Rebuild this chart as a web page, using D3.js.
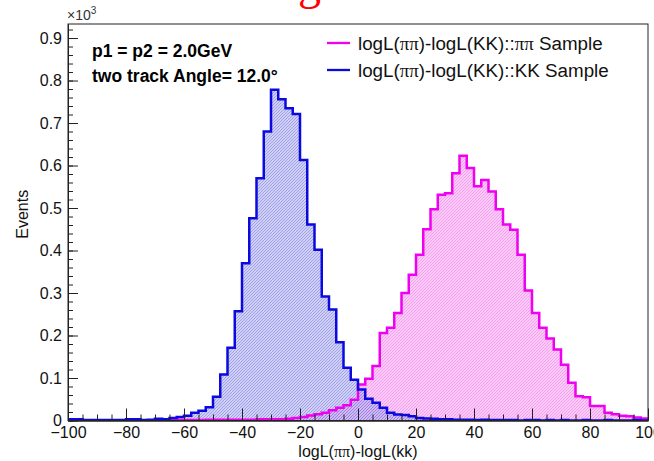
<!DOCTYPE html>
<html><head><meta charset="utf-8">
<script src="https://cdn.jsdelivr.net/npm/d3@7"></script>
<style>body{margin:0;background:#fff}svg{display:block}</style>
</head><body>
<svg id="c" width="654" height="461"></svg>
<script>
// ---------------- data ----------------
const xRange = [-100, 100];
const nBins = 80;
const yMax = 933;               // counts (axis shown x10^3)
const xMajorTicks = [-100, -80, -60, -40, -20, 0, 20, 40, 60, 80, 100];
const yMajorTicks = [0, 100, 200, 300, 400, 500, 600, 700, 800, 900];
const seriesNames = ["logL(ππ)-logL(KK)::ππ Sample", "logL(ππ)-logL(KK)::KK Sample"];
const infoLines = ["p1 = p2 = 2.0GeV", "two track Angle= 12.0°"];
const xTitle = "logL(ππ)-logL(kk)";
const yTitle = "Events";

// ππ sample (magenta), one value per 2.5-wide bin from -100 to 100
const pipiCounts = [
  0,0,0,0,0,0,0,0,0,0,
  0,0,2,3,2,1,1,1,1,2,
  2,2,2,2,2,2,3,3,3,3,
  4,6,8,12,15,18,24,30,36,49,
  85,98,128,206,218,253,300,343,390,450,
  497,531,535,582,623,594,551,566,539,497,
  461,449,390,306,253,218,193,167,131,89,
  57,55,34,34,18,15,11,10,7,5
];
// KK sample (blue)
const kkCounts = [
  3,3,1,1,1,1,1,1,3,3,
  1,2,4,3,6,8,11,18,23,31,
  56,108,171,257,370,476,570,680,778,756,
  735,721,613,461,402,292,261,184,124,96,
  73,51,42,30,18,14,13,10,6,5,
  4,3,3,2,2,2,1,2,1,1,
  1,1,0,1,1,0,1,0,1,0,
  0,1,0,0,1,0,0,0,1,0
];

// ---------------- layout ----------------
const frame = {left: 68, right: 648, top: 24, bottom: 420.5};
const FONT = "'Liberation Sans', Arial, Helvetica, sans-serif";
const svg = d3.select("#c");

const x = d3.scaleLinear().domain(xRange).range([frame.left, frame.right]);
const y = d3.scaleLinear().domain([0, yMax]).range([frame.bottom, frame.top]);
const binW = (xRange[1] - xRange[0]) / nBins;

// patterns
const defs = svg.append("defs");
function hatch(id, bg, line) {
  const p = defs.append("pattern").attr("id", id).attr("patternUnits", "userSpaceOnUse")
    .attr("width", 3).attr("height", 3);
  p.append("rect").attr("width", 3).attr("height", 3).attr("fill", bg);
  p.append("path").attr("d", "M-1,1 l2,-2 M0,3 l3,-3 M2,4 l2,-2")
    .attr("stroke", line).attr("stroke-width", 0.6).attr("stroke-opacity", 0.45);
}
hatch("hPink", "rgba(245,160,238,0.55)", "#e020e0");
hatch("hBlue", "rgba(170,170,238,0.55)", "#2020c8");
defs.append("clipPath").attr("id", "clip").append("rect")
  .attr("x", frame.left).attr("y", frame.top)
  .attr("width", frame.right - frame.left).attr("height", frame.bottom - frame.top);

// red cut-off title glyph
svg.append("text").attr("x", 298).attr("y", -1).attr("font-family", "'Liberation Serif', serif")
  .attr("font-size", 46).attr("fill", "#ff0000").text("g");

// histograms
function stepPoints(counts) {
  const pts = [[xRange[0], 0]];
  counts.forEach((c, i) => {
    const lo = xRange[0] + i * binW;
    pts.push([lo, c], [lo + binW, c]);
  });
  pts.push([xRange[1], 0]);
  return pts;
}
const line = d3.line().x(d => x(d[0])).y(d => y(d[1]));
const g = svg.append("g").attr("clip-path", "url(#clip)");
[[pipiCounts, "url(#hPink)"], [kkCounts, "url(#hBlue)"]].forEach(([c, fill]) => {
  g.append("path").attr("d", line(stepPoints(c)) + "Z").attr("fill", fill).attr("stroke", "none");
});
[[pipiCounts, "#f000f0"], [kkCounts, "#0a0ae0"]].forEach(([c, stroke]) => {
  g.append("path").attr("d", line(stepPoints(c))).attr("fill", "none")
    .attr("stroke", stroke).attr("stroke-width", 2.5).attr("stroke-linejoin", "miter");
});

// frame
svg.append("rect").attr("x", frame.left).attr("y", frame.top)
  .attr("width", frame.right - frame.left).attr("height", frame.bottom - frame.top)
  .attr("fill", "none").attr("stroke", "#222").attr("stroke-width", 1);

// axes
const fmtX = d => d < 0 ? "\u2212" + Math.abs(d) : String(d);
const fmtY = d => d === 0 ? "0" : (d / 1000).toFixed(1);
const xMinor = d3.range(xRange[0], xRange[1] + 0.001, 5);
const yMinor = d3.range(0, yMax, 20);

svg.append("g").attr("transform", `translate(0,${frame.bottom})`)
  .call(d3.axisBottom(x).tickValues(xMajorTicks).tickSizeInner(-12).tickSizeOuter(0).tickPadding(6).tickFormat(fmtX));
svg.append("g").attr("transform", `translate(0,${frame.bottom})`)
  .call(d3.axisBottom(x).tickValues(xMinor).tickSizeInner(-6).tickSizeOuter(0).tickFormat(""));
svg.append("g").attr("transform", `translate(${frame.left},0)`)
  .call(d3.axisLeft(y).tickValues(yMajorTicks).tickSizeInner(-10).tickSizeOuter(0).tickPadding(6).tickFormat(fmtY));
svg.append("g").attr("transform", `translate(${frame.left},0)`)
  .call(d3.axisLeft(y).tickValues(yMinor).tickSizeInner(-5).tickSizeOuter(0).tickFormat(""));
svg.selectAll(".domain").attr("stroke", "#222");
svg.selectAll(".tick line").attr("stroke", "#222");
svg.selectAll(".tick text").attr("font-family", FONT).attr("font-size", 16).attr("fill", "#111");

// x10^3
const e3 = svg.append("text").attr("x", frame.left - 1).attr("y", 20)
  .attr("font-family", FONT).attr("font-size", 14).attr("fill", "#333");
e3.append("tspan").text("\u00d710");
e3.append("tspan").attr("dy", -6).attr("font-size", 10).text("3");

// rich text: π drawn in serif like ROOT's symbol font
function richText(sel, str) {
  str.split(/(π+)/).forEach(part => {
    if (!part) return;
    const t = sel.append("tspan").text(part);
    if (/π/.test(part)) t.attr("font-family", "'Liberation Serif', 'DejaVu Serif', serif");
  });
}
const xt = svg.append("text").attr("x", x(0)).attr("y", 457).attr("text-anchor", "middle")
  .attr("font-family", FONT).attr("font-size", 16).attr("fill", "#111");
richText(xt, xTitle);
svg.append("text").attr("transform", `translate(28,${(frame.top + frame.bottom) / 2 - 8}) rotate(-90)`)
  .attr("text-anchor", "middle").attr("font-family", FONT).attr("font-size", 16).attr("fill", "#111").text(yTitle);

// info text
infoLines.forEach((t, i) => {
  svg.append("text").attr("x", 92).attr("y", 57 + i * 24.5).attr("font-family", FONT)
    .attr("font-weight", "bold").attr("font-size", 17.5).attr("fill", "#000").text(t);
});

// legend
const legColors = ["#f000f0", "#0a0ae0"];
seriesNames.forEach((name, i) => {
  const yy = 43 + i * 27;
  svg.append("line").attr("x1", 327).attr("x2", 350).attr("y1", yy).attr("y2", yy)
    .attr("stroke", legColors[i]).attr("stroke-width", 2.3);
  const t = svg.append("text").attr("x", 358).attr("y", yy + 6.7).attr("font-family", FONT)
    .attr("font-size", 18.8).attr("fill", "#111");
  richText(t, name);
});
</script>
</body></html>
